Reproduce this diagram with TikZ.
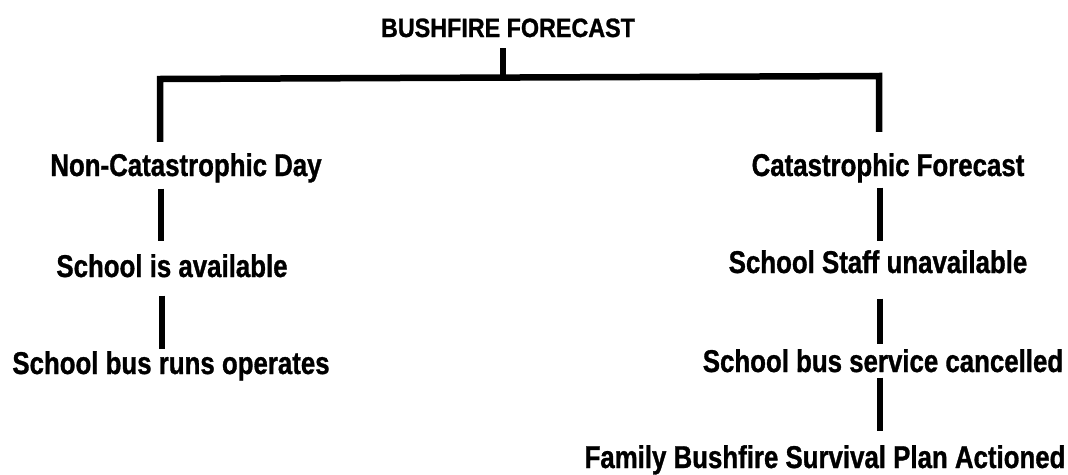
\documentclass[tikz,border=0pt]{standalone}
\usepackage{fontspec}
\setmainfont[FakeStretch=0.82, FakeBold=1]{Liberation Sans}
\newfontfamily\headfont[FakeStretch=0.88, FakeBold=1]{Liberation Sans}
\usetikzlibrary{positioning, calc}
\tikzset{>=stealth}

\begin{document}
\begin{tikzpicture}[x=1pt, y=-1pt,
	label/.style={anchor=base, inner sep=0pt, font=\fontsize{31.5}{36}\selectfont\bfseries},
	head/.style={anchor=base, inner sep=0pt, font=\headfont\fontsize{26.5}{30}\selectfont\bfseries},
	link/.style={line width=6.5pt, line join=miter}]

	\useasboundingbox (0,0) rectangle (1068,474);

	\node [head] (forecast) at (508,37) {BUSHFIRE FORECAST};

	% left branch
	\node [label] (noncat) at (186,176) {Non-Catastrophic Day};
	\node [label] (avail) at (172,277) {School is available};
	\node [label] (busruns) at (171,374) {School bus runs operates};

	% right branch
	\node [label] (cat) at (888,176) {Catastrophic Forecast};
	\node [label] (staff) at (878,273) {School Staff unavailable};
	\node [label] (buscancel) at (883,372) {School bus service cancelled};
	\node [label] (plan) at (825,468) {Family Bushfire Survival Plan Actioned};

	\coordinate (hub) at (503,78);
	\coordinate (lcol) at (160,79);
	\coordinate (rcol) at (879,76);

	\draw [link] ([yshift=-11pt]forecast.south -| hub) -- (hub);
	\draw [link] ([yshift=11pt]noncat.north -| lcol) -- (lcol) -- (rcol) -- ([yshift=21pt]cat.north -| rcol);

	\draw [link] ([yshift=-6pt]noncat.south -| 161,0) -- ([yshift=13pt]avail.north -| 161,0);
	\draw [link] ([yshift=-18pt]avail.south -| 162,0) -- ([yshift=2pt]busruns.north -| 162,0);

	\draw [link] ([yshift=-5pt]cat.south -| 880,0) -- ([yshift=9pt]staff.north -| 880,0);
	\draw [link] ([yshift=-25pt]staff.south -| 880,0) -- ([yshift=5pt]buscancel.north -| 880,0);
	\draw [link] ([yshift=-5pt]buscancel.south -| 880,0) -- ([yshift=14pt]plan.north -| 880,0);

\end{tikzpicture}
\end{document}
